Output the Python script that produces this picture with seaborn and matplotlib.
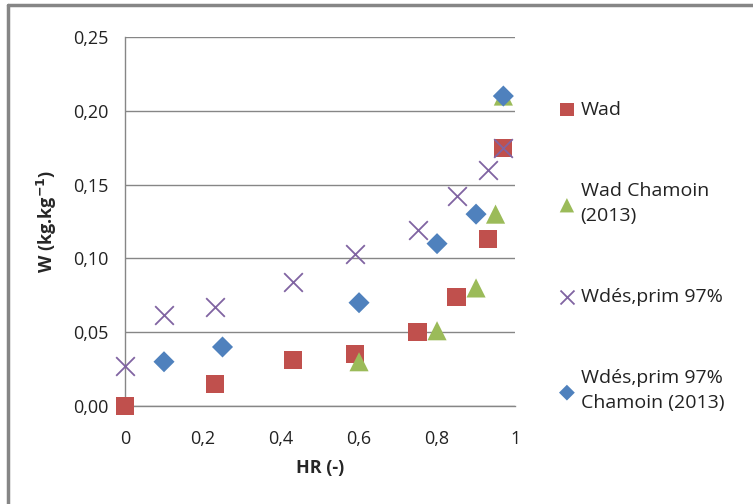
import matplotlib
matplotlib.use("Agg")
import matplotlib.pyplot as plt
import seaborn as sns
from matplotlib.lines import Line2D
from matplotlib.ticker import FuncFormatter

# Data
wad_hr = [0.0, 0.23, 0.43, 0.59, 0.75, 0.85, 0.93, 0.97]
wad_w = [0.000, 0.015, 0.031, 0.035, 0.050, 0.074, 0.113, 0.175]

wad_cham_hr = [0.60, 0.80, 0.90, 0.95, 0.97]
wad_cham_w = [0.030, 0.051, 0.080, 0.130, 0.210]

wdes_hr = [0.0, 0.10, 0.23, 0.43, 0.59, 0.75, 0.85, 0.93, 0.97]
wdes_w = [0.027, 0.062, 0.067, 0.084, 0.103, 0.119, 0.142, 0.160, 0.175]

wdes_cham_hr = [0.10, 0.25, 0.60, 0.80, 0.90, 0.97]
wdes_cham_w = [0.030, 0.040, 0.070, 0.110, 0.130, 0.210]

labels = ["Wad", "Wad Chamoin\n(2013)", "Wdés,prim 97%", "Wdés,prim 97%\nChamoin (2013)"]
x_ticks = [0, 0.2, 0.4, 0.6, 0.8, 1.0]
y_ticks = [0, 0.05, 0.10, 0.15, 0.20, 0.25]

sns.set_style("white")
plt.rcParams['font.family'] = ['Open Sans', 'DejaVu Sans']

fig = plt.figure(figsize=(7.53, 5.04), dpi=100)
ax = fig.add_axes([0.166, 0.1944, 0.518, 0.7322])

sns.scatterplot(x=wad_hr, y=wad_w, ax=ax, marker="s", s=170, color="#C0504D",
                edgecolor="none", label=labels[0], zorder=3)
sns.scatterplot(x=wad_cham_hr, y=wad_cham_w, ax=ax, marker="^", s=190, color="#9BBB59",
                edgecolor="none", label=labels[1], zorder=3)
sns.scatterplot(x=wdes_hr, y=wdes_w, ax=ax, marker="x", s=180, color="#8064A2",
                linewidth=1.3, label=labels[2], zorder=4)
sns.scatterplot(x=wdes_cham_hr, y=wdes_cham_w, ax=ax, marker="D", s=115, color="#4F81BD",
                edgecolor="none", label=labels[3], zorder=5)

ax.set_xlim(0, 1)
ax.set_ylim(0, 0.25)
ax.set_xticks(x_ticks)
ax.set_yticks(y_ticks)
ax.xaxis.set_major_formatter(FuncFormatter(lambda v, p: "0" if v == 0 else ("1" if v == 1 else f"{v:.1f}".replace(".", ","))))
ax.yaxis.set_major_formatter(FuncFormatter(lambda v, p: f"{v:.2f}".replace(".", ",")))
ax.tick_params(axis="both", labelsize=13, colors="#868686", labelcolor="#222222",
               direction="out", length=7, width=1)
ax.tick_params(axis="x", pad=10)
ax.tick_params(axis="y", pad=5)
ax.grid(axis="y", color="#868686", linewidth=1)
ax.set_axisbelow(True)
for s in ["top", "right"]:
    ax.spines[s].set_visible(False)
for s in ["left", "bottom"]:
    ax.spines[s].set_color("#868686")
    ax.spines[s].set_linewidth(1)
for coll in ax.collections:
    coll.set_clip_on(False)

ax.set_xlabel("HR (-)", fontsize=13, fontweight="bold", labelpad=8)
ax.set_ylabel("W (kg.kg$^{\\mathbf{-1}}$)", fontsize=13, fontweight="bold", labelpad=10)

handles, _ = ax.get_legend_handles_labels()
ax.legend_.remove()
leg = fig.legend(handles, labels, loc="upper left", bbox_to_anchor=(0.718, 0.835),
                 frameon=False, fontsize=14, labelspacing=3.25, handletextpad=0.25,
                 handlelength=0.9, markerscale=0.75)
for t in leg.get_texts():
    t.set_linespacing(1.5)
    t.set_color("#222222")

# outer chart frame (top and left edges visible)
fig.add_artist(Line2D([0.0106, 0.0106], [0, 0.99], color="#868686", linewidth=2.5))
fig.add_artist(Line2D([0.0106, 1.0], [0.99, 0.99], color="#868686", linewidth=2.5))

fig.savefig("out.png", dpi=100)
